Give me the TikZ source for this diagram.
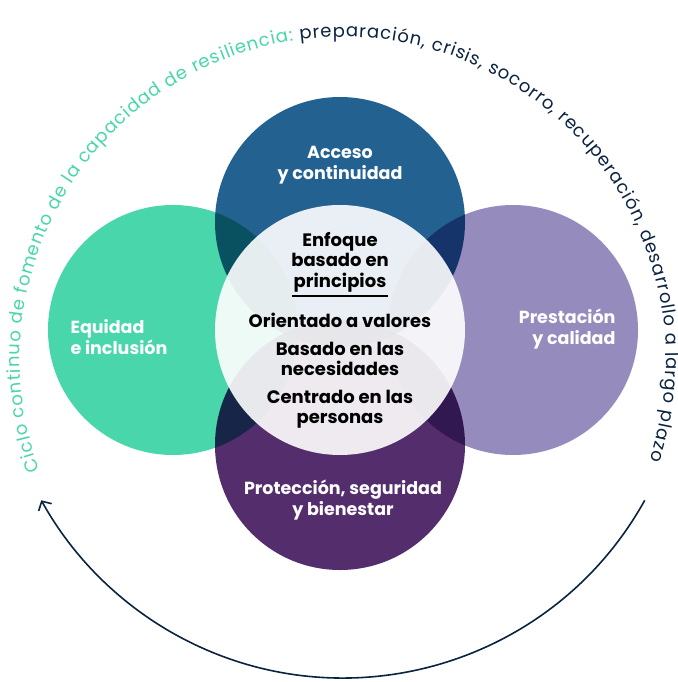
\documentclass[tikz,border=0pt]{standalone}
\usepackage{fontspec}
\setmainfont{Poppins}
\usetikzlibrary{decorations.text,arrows.meta}
\definecolor{acceso}{HTML}{236190}
\definecolor{equidad}{HTML}{48D6AA}
\definecolor{prestacion}{HTML}{968BBD}
\definecolor{proteccion}{HTML}{542D6C}
\definecolor{marino}{HTML}{0B2340}
\begin{document}
\begin{tikzpicture}[x=1pt, y=1pt,
    ring/.style={circle, minimum size=250pt, inner sep=0pt},
    lbl/.style={text=white, font=\bfseries\fontsize{17.5}{21}\selectfont, align=center},
    core/.style={text=black, font=\bfseries\fontsize{18}{20.5}\selectfont, align=center, inner sep=0pt}]
    \useasboundingbox (0,0) rectangle (677,-682);

    % Define circles
    \begin{scope}[blend mode=multiply]
        \node[ring, fill=acceso] (acceso) at (340,-222) {};
        \node[ring, fill=equidad] (equidad) at (173,-330) {};
        \node[ring, fill=prestacion] (prestacion) at (513,-330) {};
        \node[ring, fill=proteccion] (proteccion) at (340,-445) {};
    \end{scope}
    \node[ring, fill=white, fill opacity=0.9] (enfoque) at (340,-330) {};

    % Circle labels
    \node[lbl] (t-acceso) at (340,-165) {Acceso\\y continuidad};
    \node[lbl, align=left, anchor=west] (t-equidad) at (67,-337) {Equidad\\e inclusión};
    \node[lbl, align=right, anchor=east] (t-prestacion) at (619,-329) {Prestación\\y calidad};
    \node[lbl] (t-proteccion) at (343,-500) {Protección, seguridad\\y bienestar};

    % Center labels
    \node[core] (t-enfoque) at (340,-262) {Enfoque\\basado en\\principios};
    \draw[line width=2pt] ([yshift=-4pt]t-enfoque.south -| 292,0) -- ([yshift=-4pt]t-enfoque.south -| 388,0);
    \node[core] (t-valores) at (340,-320) {Orientado a valores};
    \node[core] (t-necesidades) at (340,-359) {Basado en las\\necesidades};
    \node[core] (t-personas) at (340,-409) {Centrado en las\\personas};

    % Text along the cycle
    \path[decorate, decoration={text along path, text align={fit to path},
        text={|\fontsize{18}{20}\selectfont\color{equidad}|Ciclo continuo de fomento de la capacidad de resiliencia: |\fontsize{18}{20}\selectfont\color{marino}|preparación, crisis, socorro, recuperación, desarrollo a largo plazo}}]
        (343,-360) ++(200:323) arc[start angle=200, end angle=-18, radius=323];

    % Cycle arrow
    \draw[marino, line width=1.6pt, -{Straight Barb[length=7pt, width=15pt]}]
        (343,-333) ++(-29:345) coordinate (ciclo-ini)
        arc[start angle=-29, end angle=-151, radius=345] coordinate (ciclo-fin);
\end{tikzpicture}
\end{document}
